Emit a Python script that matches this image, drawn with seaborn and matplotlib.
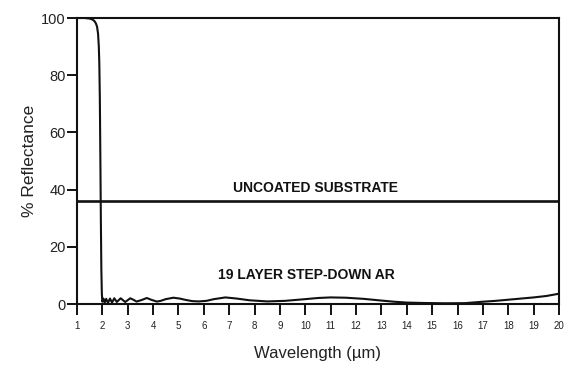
import matplotlib
matplotlib.use("Agg")
import matplotlib.pyplot as plt
import seaborn as sns
import pandas as pd

# Reflectance of the 19-layer step-down AR coating (% vs wavelength in µm)
wavelength = [
    1.0, 1.3, 1.5, 1.6, 1.68, 1.74, 1.79, 1.83, 1.86, 1.88, 1.9, 1.92, 1.94,
    1.96, 1.98, 2.0, 2.04, 2.09, 2.15, 2.22, 2.3, 2.38, 2.47, 2.57, 2.72,
    2.9, 3.1, 3.22, 3.35, 3.55, 3.75, 3.95, 4.15, 4.3, 4.5, 4.8, 5.05, 5.3,
    5.55, 5.8, 6.1, 6.4, 6.85, 7.3, 7.8, 8.5, 9.2, 10.0, 10.5, 11.0, 11.6,
    12.3, 13.0, 13.5, 14.0, 14.7, 15.5, 16.3, 17.0, 17.5, 18.0, 18.5, 19.0,
    19.5, 20.0,
]
reflectance = [
    100, 100, 99.8, 99.5, 99.0, 98.2, 97.0, 94.5, 90.0, 84.0, 72.0, 52.0, 30.0,
    12.0, 3.5, 0.8, 1.9, 0.5, 1.8, 0.4, 1.9, 0.5, 2.0, 0.7, 2.0,
    0.7, 2.0, 1.5, 0.85, 1.4, 2.1, 1.4, 0.85, 1.1, 1.7, 2.2, 1.9, 1.4,
    1.0, 0.9, 1.1, 1.7, 2.3, 1.9, 1.3, 0.9, 1.1, 1.7, 2.1, 2.3, 2.2,
    1.8, 1.2, 0.8, 0.5, 0.35, 0.25, 0.3, 0.8, 1.1, 1.5, 1.9, 2.3,
    2.8, 3.6,
]

# Reflectance of the bare substrate
substrate_wavelength = [1.0, 20.0]
substrate_reflectance = [36.0, 36.0]

x_ticks = list(range(1, 21))
y_ticks = [0, 20, 40, 60, 80, 100]

sns.set_theme(style="ticks")
plt.rcParams["font.family"] = ["Liberation Sans", "DejaVu Sans"]

ink = "#111111"
fig = plt.figure(figsize=(5.65, 3.71), dpi=100)
ax = fig.add_axes([77 / 565, 1 - 304 / 371, (559 - 77) / 565, 286 / 371])

coated = pd.DataFrame({"wavelength": wavelength, "reflectance": reflectance})
bare = pd.DataFrame({"wavelength": substrate_wavelength,
                     "reflectance": substrate_reflectance})

sns.lineplot(data=coated, x="wavelength", y="reflectance", ax=ax,
             color=ink, linewidth=1.5, sort=False)
sns.lineplot(data=bare, x="wavelength", y="reflectance", ax=ax,
             color=ink, linewidth=1.9)

ax.set_xlim(1, 20)
ax.set_ylim(0, 100)
ax.set_xticks(x_ticks)
ax.set_yticks(y_ticks)
ax.set_xticklabels([str(t) for t in x_ticks], fontsize=7)
ax.set_yticklabels([str(t) for t in y_ticks], fontsize=10.5)

for side in ["left", "right", "top", "bottom"]:
    ax.spines[side].set_visible(True)
    ax.spines[side].set_color(ink)
    ax.spines[side].set_linewidth(1.5)

ax.tick_params(axis="x", direction="out", length=8, width=1.4,
               color=ink, pad=4, labelcolor="#222222")
ax.tick_params(axis="y", direction="out", length=7.5, width=1.4,
               color=ink, pad=0.5, labelcolor="#222222")

ax.set_xlabel("Wavelength (µm)", fontsize=12, color="#222222", labelpad=11)
ax.set_ylabel("% Reflectance", fontsize=12.5, color="#222222", labelpad=3)

label_style = dict(fontweight="bold", fontsize=10, color=ink,
                   ha="center", va="center")
ax.text(10.42, 40.5, "UNCOATED SUBSTRATE", **label_style)
ax.text(10.05, 10.3, "19 LAYER STEP-DOWN AR", **label_style)

fig.savefig("out.png", dpi=100)
